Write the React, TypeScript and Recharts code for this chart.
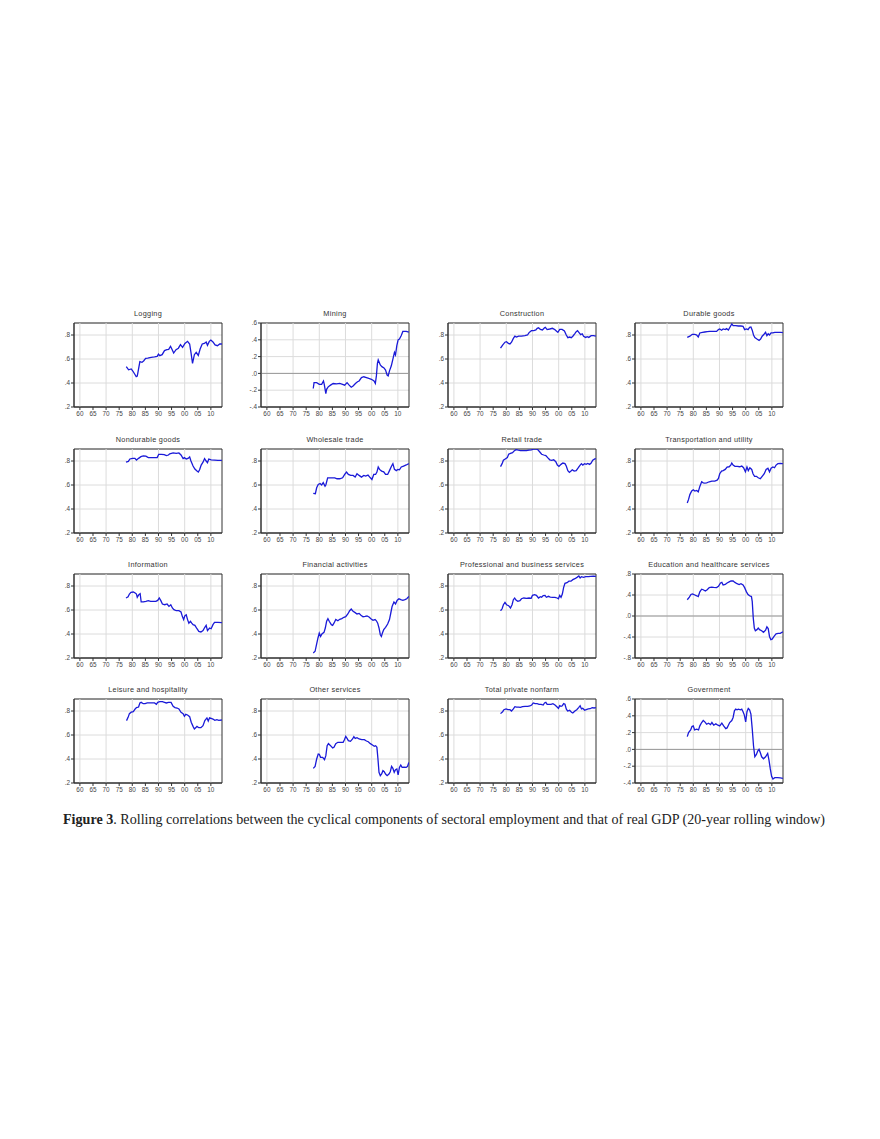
import React from "react";
import {
  LineChart,
  Line,
  XAxis,
  YAxis,
  CartesianGrid,
  ReferenceLine,
  ReferenceArea,
} from "recharts";

type Pt = [number, number];

// rolling correlations, [year, value]
const logging: Pt[] = [
  [1977.7, 0.536], [1978.6, 0.51], [1979.6, 0.517], [1980.2, 0.5], [1980.9, 0.475],
  [1981.5, 0.453], [1981.9, 0.458], [1982.4, 0.517], [1982.9, 0.578], [1983.7, 0.572],
  [1984.4, 0.586], [1985.1, 0.605], [1985.9, 0.608], [1987.2, 0.614], [1988.5, 0.617],
  [1989.5, 0.622], [1990, 0.64], [1990.5, 0.628], [1991.4, 0.636], [1992.3, 0.67],
  [1993.2, 0.678], [1993.9, 0.68], [1994.6, 0.706], [1995.1, 0.683], [1995.8, 0.65],
  [1996.7, 0.678], [1997.6, 0.69], [1998.4, 0.72], [1999.2, 0.697], [2000.1, 0.73],
  [2001.1, 0.747], [2001.9, 0.725], [2002.4, 0.656], [2003.0, 0.564], [2003.7, 0.636],
  [2004.4, 0.656], [2005.2, 0.63], [2005.9, 0.683], [2006.7, 0.725], [2007.5, 0.73],
  [2008.2, 0.742], [2008.7, 0.714], [2009.4, 0.747], [2010, 0.758], [2010.8, 0.742],
  [2011.6, 0.717], [2012.5, 0.711], [2013.4, 0.725], [2014.2, 0.725],
];

const mining: Pt[] = [
  [1977.7, -0.18], [1978.0, -0.11], [1979, -0.11], [1980, -0.13], [1980.9, -0.13],
  [1981.6, -0.09], [1981.9, -0.13], [1982.5, -0.24], [1982.8, -0.19], [1983.4, -0.16],
  [1984.3, -0.14], [1985.3, -0.12], [1986.6, -0.125], [1987.8, -0.12], [1988.9, -0.13],
  [1989.7, -0.14], [1990.6, -0.11], [1991.4, -0.14], [1992.2, -0.165], [1992.9, -0.15],
  [1993.8, -0.12], [1994.6, -0.1], [1995.2, -0.09], [1996.1, -0.05], [1997, -0.04],
  [1998, -0.05], [1998.9, -0.06], [1999.9, -0.07], [2000.9, -0.09], [2001.4, -0.12],
  [2001.8, -0.03], [2002.2, 0.12], [2002.5, 0.16], [2003.3, 0.1], [2003.9, 0.08],
  [2004.7, 0.065], [2005.3, 0.04], [2005.9, -0.02], [2006.3, -0.03], [2006.8, 0.03],
  [2007.5, 0.09], [2008.1, 0.17], [2008.7, 0.25], [2009.1, 0.22], [2009.6, 0.33],
  [2010.1, 0.4], [2010.6, 0.41], [2011.3, 0.45], [2011.9, 0.5], [2012.5, 0.5],
  [2013.2, 0.5], [2014.2, 0.49],
];

const construction: Pt[] = [
  [1977.8, 0.69], [1978.6, 0.716], [1979.5, 0.74], [1980.1, 0.744], [1980.8, 0.73],
  [1981.4, 0.725], [1982, 0.74], [1982.7, 0.772], [1983.3, 0.79], [1983.9, 0.783],
  [1984.7, 0.79], [1985.8, 0.79], [1987.1, 0.795], [1988.1, 0.8], [1988.7, 0.82],
  [1989.6, 0.836], [1990.5, 0.836], [1991.3, 0.842], [1991.8, 0.856], [1992.3, 0.86],
  [1993, 0.847], [1993.8, 0.842], [1994.6, 0.86], [1994.9, 0.864], [1995.6, 0.845],
  [1996.6, 0.85], [1997.6, 0.856], [1998.5, 0.845], [1999.1, 0.834], [1999.7, 0.822],
  [2000.4, 0.847], [2001.3, 0.847], [2002.2, 0.834], [2002.9, 0.8], [2003.5, 0.778],
  [2004.2, 0.783], [2004.8, 0.778], [2005.4, 0.79], [2006.1, 0.81], [2006.7, 0.828],
  [2007.2, 0.836], [2007.7, 0.822], [2008.4, 0.803], [2009, 0.81], [2009.5, 0.79],
  [2010.3, 0.78], [2010.9, 0.786], [2011.5, 0.78], [2012.4, 0.794], [2013.3, 0.794],
  [2014.2, 0.79],
];

const durable: Pt[] = [
  [1977.7, 0.78], [1978.7, 0.79], [1979.6, 0.806], [1980.6, 0.806], [1981.3, 0.8],
  [1981.9, 0.783], [1982.5, 0.817], [1983.5, 0.822], [1984.4, 0.825], [1985.3, 0.828],
  [1986.3, 0.83], [1987.6, 0.83], [1988.9, 0.83], [1989.6, 0.845], [1990.1, 0.85],
  [1990.8, 0.84], [1991.4, 0.85], [1992.2, 0.845], [1992.7, 0.853], [1993.4, 0.842],
  [1994.2, 0.873], [1994.7, 0.892], [1995.2, 0.878], [1996.2, 0.878], [1997.2, 0.875],
  [1998.2, 0.875], [1999, 0.873], [1999.6, 0.845], [2000.3, 0.85], [2000.9, 0.845],
  [2001.5, 0.864], [2002, 0.867], [2002.5, 0.84], [2003, 0.8], [2003.5, 0.778],
  [2004.3, 0.766], [2005.1, 0.755], [2005.7, 0.766], [2006.3, 0.79], [2007, 0.806],
  [2007.6, 0.822], [2008.1, 0.794], [2008.6, 0.81], [2009.1, 0.8], [2009.7, 0.817],
  [2010.4, 0.817], [2011.1, 0.822], [2012.3, 0.822], [2013.5, 0.822], [2014.2, 0.82],
];

const nondurable: Pt[] = [
  [1977.6, 0.79], [1978.5, 0.797], [1979.1, 0.817], [1980.1, 0.822], [1981, 0.822],
  [1981.6, 0.808], [1982.4, 0.822], [1983.3, 0.836], [1984.2, 0.842], [1985.2, 0.84],
  [1986.1, 0.828], [1987.3, 0.828], [1988.6, 0.828], [1989.5, 0.828], [1990.1, 0.856],
  [1991.1, 0.856], [1992.2, 0.853], [1993, 0.845], [1993.8, 0.85], [1994.3, 0.86],
  [1995.6, 0.867], [1996.8, 0.864], [1997.8, 0.867], [1998.6, 0.85], [1999.4, 0.82],
  [1999.9, 0.828], [2000.6, 0.817], [2001.3, 0.822], [2001.9, 0.834], [2002.4, 0.8],
  [2003.2, 0.758], [2003.9, 0.733], [2004.7, 0.716], [2005.2, 0.708], [2005.7, 0.727],
  [2006.3, 0.766], [2007, 0.79], [2007.6, 0.82], [2008.2, 0.8], [2008.7, 0.786],
  [2009.2, 0.817], [2010.1, 0.81], [2011.4, 0.808], [2012.7, 0.806], [2014.2, 0.806],
];

const wholesale: Pt[] = [
  [1977.7, 0.53], [1978.5, 0.527], [1979, 0.577], [1979.6, 0.605], [1980.3, 0.613],
  [1980.9, 0.6], [1981.5, 0.62], [1982.2, 0.59], [1982.5, 0.6], [1983.2, 0.66],
  [1984.1, 0.66], [1985.1, 0.66], [1985.9, 0.66], [1986.8, 0.652], [1987.8, 0.652],
  [1988.9, 0.66], [1989.7, 0.688], [1990.4, 0.708], [1991.1, 0.688], [1992, 0.68],
  [1992.9, 0.68], [1993.7, 0.666], [1994.4, 0.694], [1995.2, 0.68], [1996.1, 0.666],
  [1997, 0.68], [1997.7, 0.674], [1998.6, 0.683], [1999.5, 0.66], [2000.1, 0.646],
  [2000.8, 0.688], [2001.5, 0.688], [2002, 0.708], [2002.5, 0.75], [2003, 0.73],
  [2003.8, 0.716], [2004.6, 0.71], [2005.3, 0.688], [2006.1, 0.688], [2006.8, 0.72],
  [2007.6, 0.758], [2008.1, 0.778], [2008.7, 0.73], [2009.4, 0.72], [2010, 0.73],
  [2010.6, 0.727], [2011.3, 0.75], [2012.2, 0.758], [2013.2, 0.767], [2014.2, 0.778],
];

const retail: Pt[] = [
  [1977.8, 0.753], [1978.4, 0.778], [1978.9, 0.806], [1979.6, 0.817], [1980.4, 0.828],
  [1980.9, 0.856], [1981.6, 0.864], [1982.4, 0.87], [1983, 0.884], [1983.7, 0.895],
  [1984.6, 0.89], [1985.4, 0.887], [1986.5, 0.887], [1987.7, 0.887], [1988.7, 0.89],
  [1989.6, 0.892], [1990.5, 0.9], [1991.3, 0.9], [1992, 0.895], [1992.8, 0.875],
  [1993.5, 0.856], [1994.3, 0.85], [1995.1, 0.845], [1995.8, 0.828], [1996.6, 0.81],
  [1997.3, 0.806], [1998.1, 0.81], [1998.9, 0.794], [1999.5, 0.766], [2000.1, 0.755],
  [2000.9, 0.772], [2001.6, 0.783], [2002.4, 0.778], [2002.9, 0.758], [2003.5, 0.72],
  [2004.1, 0.705], [2004.7, 0.716], [2005.2, 0.727], [2005.9, 0.716], [2006.7, 0.72],
  [2007.5, 0.744], [2008.2, 0.766], [2008.7, 0.778], [2009.2, 0.766], [2009.9, 0.778],
  [2010.5, 0.772], [2011.1, 0.78], [2011.8, 0.772], [2012.4, 0.783], [2013, 0.806],
  [2013.8, 0.817], [2014.2, 0.82],
];

const transport: Pt[] = [
  [1977.7, 0.45], [1978.2, 0.48], [1978.7, 0.52], [1979.4, 0.55], [1980, 0.56],
  [1980.6, 0.55], [1981.3, 0.555], [1981.9, 0.543], [1982.5, 0.588], [1983.2, 0.627],
  [1983.8, 0.618], [1984.4, 0.616], [1985.1, 0.618], [1986.1, 0.627], [1987.1, 0.632],
  [1988.2, 0.632], [1989.1, 0.64], [1989.6, 0.655], [1990.1, 0.694], [1990.8, 0.716],
  [1991.4, 0.72], [1992.2, 0.73], [1992.9, 0.75], [1993.7, 0.752], [1994.3, 0.766],
  [1994.7, 0.783], [1995.2, 0.766], [1995.9, 0.755], [1996.8, 0.755], [1997.7, 0.752],
  [1998.5, 0.758], [1999.2, 0.744], [1999.9, 0.71], [2000.5, 0.75], [2001, 0.72],
  [2001.6, 0.744], [2002.3, 0.73], [2002.8, 0.694], [2003.4, 0.672], [2004.1, 0.672],
  [2004.8, 0.66], [2005.6, 0.652], [2006.3, 0.672], [2007.1, 0.694], [2007.8, 0.73],
  [2008.5, 0.74], [2009.1, 0.71], [2009.7, 0.74], [2010.4, 0.75], [2011, 0.744],
  [2011.6, 0.766], [2012.3, 0.778], [2013.2, 0.78], [2014.2, 0.778],
];

const information: Pt[] = [
  [1977.6, 0.7], [1978.4, 0.71], [1978.9, 0.733], [1979.5, 0.747], [1980.4, 0.75],
  [1981.1, 0.742], [1981.6, 0.733], [1981.9, 0.706], [1982.5, 0.728], [1983, 0.736],
  [1983.4, 0.667], [1984.2, 0.667], [1985.2, 0.672], [1986.1, 0.678], [1987, 0.672],
  [1988, 0.672], [1989, 0.672], [1989.7, 0.68], [1990.3, 0.7], [1990.9, 0.678],
  [1991.5, 0.65], [1992.4, 0.644], [1993.3, 0.65], [1994, 0.63], [1994.7, 0.644],
  [1995.3, 0.617], [1995.9, 0.603], [1996.8, 0.594], [1997.8, 0.594], [1998.6, 0.583],
  [1999.1, 0.547], [1999.6, 0.52], [2000.1, 0.553], [2000.6, 0.56], [2001.1, 0.52],
  [2001.6, 0.49], [2002.2, 0.506], [2002.7, 0.49], [2003.2, 0.478], [2003.9, 0.472],
  [2004.7, 0.444], [2005.4, 0.422], [2006.2, 0.417], [2007, 0.428], [2007.7, 0.456],
  [2008.2, 0.472], [2008.7, 0.428], [2009.5, 0.45], [2010.1, 0.444], [2010.8, 0.478],
  [2011.4, 0.497], [2012.7, 0.497], [2014.2, 0.494],
];

const financial: Pt[] = [
  [1977.7, 0.242], [1978.4, 0.256], [1979, 0.317], [1979.5, 0.367], [1980, 0.408],
  [1980.5, 0.38], [1981, 0.4], [1981.8, 0.414], [1982.3, 0.45], [1982.8, 0.506],
  [1983.3, 0.528], [1983.8, 0.506], [1984.6, 0.478], [1985.1, 0.472], [1985.6, 0.49],
  [1986.3, 0.522], [1987.1, 0.51], [1987.8, 0.522], [1988.6, 0.528], [1989.4, 0.539],
  [1990.1, 0.544], [1990.9, 0.567], [1991.6, 0.594], [1992.2, 0.608], [1992.9, 0.589],
  [1993.7, 0.578], [1994.4, 0.567], [1995.2, 0.572], [1995.9, 0.556], [1996.7, 0.544],
  [1997.5, 0.547], [1998.2, 0.55], [1999, 0.542], [1999.7, 0.528], [2000.5, 0.514],
  [2001.3, 0.52], [2001.8, 0.51], [2002.3, 0.49], [2002.8, 0.45], [2003.3, 0.394],
  [2003.7, 0.38], [2004.1, 0.408], [2004.6, 0.436], [2005.3, 0.456], [2006.1, 0.483],
  [2006.8, 0.52], [2007.3, 0.575], [2007.8, 0.63], [2008.5, 0.667], [2009.1, 0.65],
  [2009.7, 0.68], [2010.4, 0.694], [2011.1, 0.686], [2011.9, 0.68], [2012.7, 0.686],
  [2013.4, 0.694], [2014.2, 0.714],
];

const professional: Pt[] = [
  [1977.8, 0.594], [1978.4, 0.61], [1978.9, 0.644], [1979.5, 0.664], [1980.1, 0.644],
  [1980.9, 0.636], [1981.6, 0.617], [1982.2, 0.644], [1982.7, 0.686], [1983.2, 0.7],
  [1983.7, 0.683], [1984.4, 0.672], [1985.2, 0.678], [1985.8, 0.694], [1986.7, 0.7],
  [1987.7, 0.697], [1988.7, 0.7], [1989.5, 0.697], [1990, 0.722], [1990.8, 0.728],
  [1991.5, 0.722], [1992.3, 0.7], [1993, 0.711], [1993.5, 0.706], [1994.1, 0.72],
  [1994.8, 0.722], [1995.3, 0.706], [1996.1, 0.714], [1996.8, 0.708], [1997.8, 0.706],
  [1998.6, 0.706], [1999.4, 0.7], [1999.9, 0.694], [2000.4, 0.722], [2000.9, 0.706],
  [2001.4, 0.733], [2001.9, 0.789], [2002.4, 0.822], [2003.2, 0.828], [2003.9, 0.84],
  [2004.7, 0.84], [2005.4, 0.853], [2006.2, 0.861], [2007, 0.872], [2007.7, 0.883],
  [2008.2, 0.867], [2008.7, 0.878], [2009.5, 0.872], [2010.3, 0.878], [2011.3, 0.878],
  [2012.3, 0.881], [2013.3, 0.883], [2014.2, 0.881],
];

const education: Pt[] = [
  [1977.7, 0.31], [1978.5, 0.36], [1979.1, 0.41], [1979.7, 0.42], [1980.6, 0.4],
  [1981.3, 0.385], [1981.9, 0.37], [1982.5, 0.46], [1983.2, 0.51], [1983.8, 0.5],
  [1984.6, 0.475], [1985.3, 0.5], [1986.1, 0.54], [1987, 0.55], [1987.8, 0.545],
  [1988.9, 0.54], [1989.6, 0.564], [1990.4, 0.63], [1990.9, 0.64], [1991.4, 0.59],
  [1992.2, 0.6], [1992.9, 0.63], [1993.7, 0.65], [1994.4, 0.667], [1995.2, 0.667],
  [1995.9, 0.64], [1996.7, 0.615], [1997.5, 0.6], [1998.2, 0.615], [1999, 0.59],
  [1999.6, 0.54], [2000.3, 0.46], [2000.9, 0.41], [2001.5, 0.385], [2002.2, 0.37],
  [2002.5, 0.28], [2002.9, -0.04], [2003.3, -0.23], [2003.7, -0.28], [2004.3, -0.26],
  [2004.8, -0.23], [2005.3, -0.26], [2006.1, -0.28], [2006.8, -0.31], [2007.6, -0.27],
  [2008.1, -0.205], [2008.6, -0.24], [2009.1, -0.39], [2009.6, -0.45], [2010.1, -0.44],
  [2010.9, -0.385], [2011.6, -0.34], [2012.4, -0.33], [2013.2, -0.33], [2014.2, -0.3],
];

const leisure: Pt[] = [
  [1977.8, 0.72], [1978.4, 0.747], [1978.9, 0.778], [1979.6, 0.79], [1980.4, 0.794],
  [1981.1, 0.817], [1981.6, 0.828], [1982.4, 0.833], [1982.9, 0.867], [1983.4, 0.872],
  [1984.2, 0.861], [1984.9, 0.861], [1985.7, 0.867], [1986.7, 0.867], [1987.7, 0.867],
  [1988.5, 0.867], [1989.2, 0.856], [1989.7, 0.872], [1990.5, 0.878], [1991.5, 0.878],
  [1992.3, 0.872], [1993, 0.867], [1993.8, 0.872], [1994.8, 0.872], [1995.6, 0.839],
  [1996.3, 0.828], [1997.1, 0.825], [1997.8, 0.817], [1998.6, 0.789], [1999.4, 0.778],
  [1999.9, 0.756], [2000.4, 0.772], [2001.1, 0.767], [2001.9, 0.753], [2002.5, 0.706],
  [2003.2, 0.672], [2003.7, 0.65], [2004.2, 0.661], [2004.7, 0.672], [2005.4, 0.661],
  [2006.2, 0.661], [2007, 0.678], [2007.7, 0.72], [2008.5, 0.742], [2009, 0.717],
  [2009.5, 0.744], [2010.1, 0.739], [2010.8, 0.733], [2011.5, 0.722], [2012.3, 0.728],
  [2013, 0.722], [2014.2, 0.725],
];

const otherServices: Pt[] = [
  [1977.7, 0.322], [1978.4, 0.339], [1979, 0.4], [1979.6, 0.442], [1980, 0.44],
  [1980.5, 0.414], [1981.3, 0.414], [1982, 0.394], [1982.5, 0.428], [1983, 0.511],
  [1983.5, 0.528], [1984.3, 0.511], [1985.1, 0.492], [1985.6, 0.497], [1986.3, 0.528],
  [1987.1, 0.539], [1988.1, 0.539], [1989.1, 0.539], [1989.6, 0.561], [1990.1, 0.589],
  [1990.6, 0.572], [1991.1, 0.553], [1991.9, 0.547], [1992.7, 0.567], [1993.2, 0.586],
  [1993.7, 0.572], [1994.4, 0.578], [1995.2, 0.567], [1996.2, 0.561], [1997.2, 0.561],
  [1998, 0.55], [1998.7, 0.544], [1999.5, 0.528], [2000.3, 0.517], [2001, 0.506],
  [2001.5, 0.511], [2002, 0.497], [2002.4, 0.4], [2002.8, 0.289], [2003.3, 0.261],
  [2003.8, 0.275], [2004.3, 0.303], [2004.8, 0.294], [2005.3, 0.275], [2005.9, 0.261],
  [2006.6, 0.275], [2007.1, 0.294], [2007.6, 0.339], [2008.1, 0.322], [2008.6, 0.289],
  [2009.1, 0.311], [2009.6, 0.317], [2010.1, 0.267], [2010.6, 0.33], [2011.1, 0.35],
  [2011.6, 0.33], [2012.4, 0.333], [2013.2, 0.33], [2013.7, 0.339], [2014.2, 0.372],
];

const totalPrivate: Pt[] = [
  [1977.8, 0.778], [1978.6, 0.794], [1979.1, 0.811], [1979.9, 0.817], [1980.6, 0.811],
  [1981.4, 0.811], [1982, 0.8], [1982.7, 0.817], [1983.3, 0.836], [1983.9, 0.833],
  [1984.7, 0.833], [1985.4, 0.83], [1986.2, 0.836], [1987.2, 0.839], [1988.2, 0.839],
  [1989, 0.842], [1989.7, 0.85], [1990.3, 0.867], [1991, 0.861], [1991.8, 0.861],
  [1992.5, 0.856], [1993.3, 0.856], [1994.1, 0.85], [1994.6, 0.867], [1995.1, 0.872],
  [1995.6, 0.856], [1996.3, 0.856], [1997.1, 0.856], [1997.8, 0.861], [1998.6, 0.85],
  [1999.4, 0.833], [1999.9, 0.822], [2000.4, 0.844], [2000.9, 0.839], [2001.4, 0.844],
  [2001.9, 0.861], [2002.4, 0.856], [2002.9, 0.817], [2003.4, 0.8], [2004.2, 0.806],
  [2004.9, 0.789], [2005.4, 0.783], [2006.2, 0.8], [2006.9, 0.811], [2007.7, 0.83],
  [2008.2, 0.844], [2008.7, 0.817], [2009.2, 0.822], [2009.9, 0.806], [2010.5, 0.811],
  [2011.3, 0.817], [2012, 0.819], [2012.8, 0.828], [2013.5, 0.825], [2014.2, 0.828],
];

const government: Pt[] = [
  [1977.7, 0.152], [1978.2, 0.2], [1979, 0.232], [1979.5, 0.272], [1980, 0.28],
  [1980.5, 0.232], [1981.3, 0.24], [1982, 0.232], [1982.5, 0.28], [1983.2, 0.32],
  [1983.8, 0.344], [1984.4, 0.328], [1985.1, 0.3], [1985.8, 0.312], [1986.6, 0.296],
  [1987.1, 0.32], [1987.8, 0.288], [1988.6, 0.304], [1989.4, 0.288], [1990.1, 0.28],
  [1990.9, 0.312], [1991.6, 0.28], [1992.4, 0.248], [1992.9, 0.256], [1993.4, 0.288],
  [1993.9, 0.32], [1994.7, 0.344], [1995.2, 0.38], [1995.7, 0.46], [1996.2, 0.48],
  [1996.7, 0.472], [1997.2, 0.48], [1998, 0.472], [1998.5, 0.48], [1999, 0.448],
  [1999.5, 0.408], [2000, 0.328], [2000.5, 0.448], [2001, 0.488], [2001.5, 0.472],
  [2002, 0.42], [2002.5, 0.248], [2003, 0.04], [2003.5, -0.088], [2004.1, -0.06],
  [2004.6, -0.02], [2005.1, 0.0], [2005.6, -0.04], [2006.1, -0.088], [2006.8, -0.112],
  [2007.6, -0.088], [2008.4, -0.048], [2008.9, -0.128], [2009.4, -0.232], [2009.9, -0.32],
  [2010.4, -0.352], [2011.1, -0.336], [2012.2, -0.336], [2013.2, -0.34], [2014.2, -0.344],
];

const xTicks = [1960, 1965, 1970, 1975, 1980, 1985, 1990, 1995, 2000, 2005, 2010];
const decades = [1960, 1970, 1980, 1990, 2000, 2010];
const posTicks = [0.2, 0.4, 0.6, 0.8];
const miningTicks = [-0.4, -0.2, 0, 0.2, 0.4, 0.6];
const eduTicks = [-0.8, -0.4, 0, 0.4, 0.8];

interface Panel {
  title: string;
  data: Pt[];
  domain: [number, number];
  ticks: number[];
}

const panels: Panel[] = [
  { title: "Logging", data: logging, domain: [0.2, 0.9], ticks: posTicks },
  { title: "Mining", data: mining, domain: [-0.4, 0.6], ticks: miningTicks },
  { title: "Construction", data: construction, domain: [0.2, 0.9], ticks: posTicks },
  { title: "Durable goods", data: durable, domain: [0.2, 0.9], ticks: posTicks },
  { title: "Nondurable goods", data: nondurable, domain: [0.2, 0.9], ticks: posTicks },
  { title: "Wholesale trade", data: wholesale, domain: [0.2, 0.9], ticks: posTicks },
  { title: "Retail trade", data: retail, domain: [0.2, 0.9], ticks: posTicks },
  { title: "Transportation and utility", data: transport, domain: [0.2, 0.9], ticks: posTicks },
  { title: "Information", data: information, domain: [0.2, 0.9], ticks: posTicks },
  { title: "Financial activities", data: financial, domain: [0.2, 0.9], ticks: posTicks },
  { title: "Professional and business services", data: professional, domain: [0.2, 0.9], ticks: posTicks },
  { title: "Education and healthcare services", data: education, domain: [-0.8, 0.8], ticks: eduTicks },
  { title: "Leisure and hospitality", data: leisure, domain: [0.2, 0.9], ticks: posTicks },
  { title: "Other services", data: otherServices, domain: [0.2, 0.9], ticks: posTicks },
  { title: "Total private nonfarm", data: totalPrivate, domain: [0.2, 0.9], ticks: posTicks },
  { title: "Government", data: government, domain: [-0.4, 0.6], ticks: miningTicks },
];

const X_DOMAIN: [number, number] = [1957.75, 2014.25];
const COL_LEFT = [74, 261, 448, 635];
const ROW_TOP = [323.3, 448.7, 574, 699.3];
const PLOT_W = 148;
const PLOT_H = 84;
const Y_AXIS_W = 22;
const TOP_PAD = 6;
const X_AXIS_H = 14;

const fmtY = (v: number) =>
  (v < 0 ? "-" : "") + Math.abs(v).toFixed(1).replace(/^0/, "");
const fmtX = (v: number) => String(v % 100).padStart(2, "0");

const tickStyle = { fontSize: 6.4, fill: "#444", fontFamily: "'Liberation Sans', Arial, sans-serif" };

function SmallChart({ panel, left, top }: { panel: Panel; left: number; top: number }) {
  const rows = panel.data.map(([t, v]) => ({ t, v }));
  const hasZero = panel.domain[0] < 0;
  return (
    <>
      <div
        style={{
          position: "absolute",
          left: left - 10,
          top: top - 14,
          width: PLOT_W + 20,
          textAlign: "center",
          fontFamily: "'Liberation Sans', Arial, sans-serif",
          fontSize: 7.3,
          fontWeight: 400,
          letterSpacing: 0.3,
          color: "#333",
          whiteSpace: "nowrap",
        }}
      >
        {panel.title}
      </div>
      <div style={{ position: "absolute", left: left - Y_AXIS_W, top: top - TOP_PAD }}>
        <LineChart
          width={Y_AXIS_W + PLOT_W + 4}
          height={TOP_PAD + PLOT_H + X_AXIS_H}
          data={rows}
          margin={{ top: TOP_PAD, right: 4, left: 0, bottom: 0 }}
        >
          <CartesianGrid vertical={false} stroke="#dcdcdc" strokeWidth={1} />
          {decades.map((d) => (
            <ReferenceLine key={d} x={d} stroke="#dcdcdc" strokeWidth={1} />
          ))}
          {hasZero && <ReferenceLine y={0} stroke="#999" strokeWidth={1} />}
          <XAxis
            dataKey="t"
            type="number"
            domain={X_DOMAIN}
            allowDataOverflow
            ticks={xTicks}
            tickFormatter={fmtX}
            interval={0}
            tick={tickStyle}
            tickSize={3}
            tickMargin={1}
            height={X_AXIS_H}
            stroke="#333"
          />
          <YAxis
            type="number"
            domain={panel.domain}
            allowDataOverflow
            ticks={panel.ticks}
            tickFormatter={fmtY}
            interval={0}
            tick={tickStyle}
            tickSize={3}
            tickMargin={1}
            width={Y_AXIS_W}
            stroke="#333"
          />
          <ReferenceArea
            x1={X_DOMAIN[0]}
            x2={X_DOMAIN[1]}
            y1={panel.domain[0]}
            y2={panel.domain[1]}
            fill="none"
            stroke="#333"
            strokeWidth={1}
          />
          <Line
            type="linear"
            dataKey="v"
            stroke="#1a1ad8"
            strokeWidth={1.3}
            dot={false}
            isAnimationActive={false}
          />
        </LineChart>
      </div>
    </>
  );
}

export default function App() {
  return (
    <div
      style={{
        position: "absolute",
        left: 0,
        top: 0,
        width: 880,
        height: 1139,
        background: "#fff",
      }}
    >
      {panels.map((p, i) => (
        <SmallChart
          key={p.title}
          panel={p}
          left={COL_LEFT[i % 4]}
          top={ROW_TOP[Math.floor(i / 4)]}
        />
      ))}
      <div
        style={{
          position: "absolute",
          left: 63,
          top: 811,
          fontFamily: "'Liberation Serif', 'Times New Roman', serif",
          fontSize: 14.1,
          lineHeight: "17px",
          color: "#222",
          whiteSpace: "nowrap",
        }}
      >
        <b>Figure 3</b>. Rolling correlations between the cyclical components of sectoral
        employment and that of real GDP (20-year rolling window)
      </div>
    </div>
  );
}
